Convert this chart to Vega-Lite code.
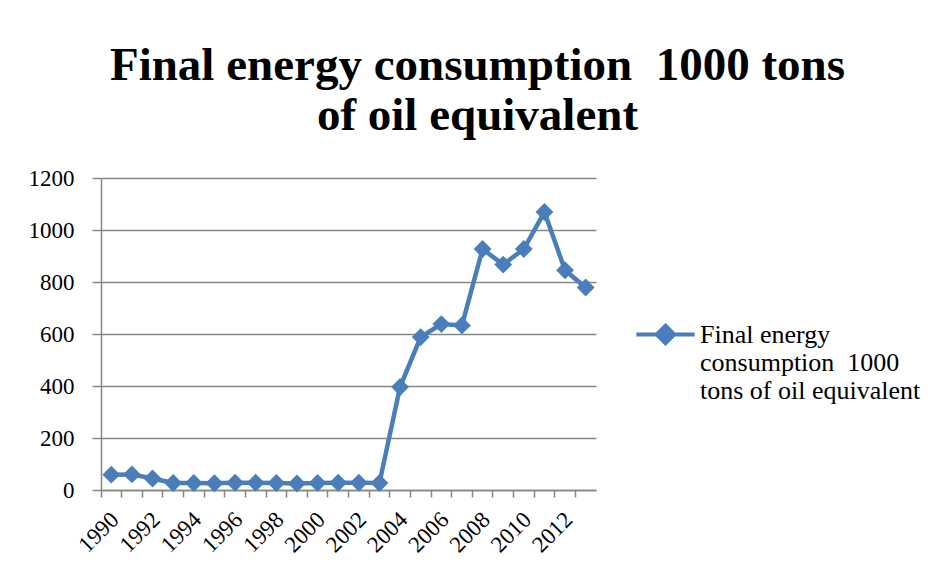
{
  "$schema": "https://vega.github.io/schema/vega-lite/v6.json",
  "width": 495,
  "height": 312,
  "padding": {"left": 28, "top": 42, "right": 10, "bottom": 5},
  "background": "white",
  "title": {
    "text": ["Final energy consumption\u00a0 1000 tons", "of oil equivalent"],
    "font": "Liberation Serif",
    "fontSize": 47,
    "fontWeight": "bold",
    "lineHeight": 50,
    "anchor": "middle",
    "frame": "bounds",
    "offset": 27,
    "dx": 3,
    "color": "black"
  },
  "config": {
    "view": {"stroke": null},
    "axis": {
      "labelFont": "Liberation Serif",
      "labelFontSize": 23,
      "labelColor": "black",
      "domainColor": "#868686",
      "domainWidth": 1.5,
      "tickColor": "#868686",
      "tickWidth": 1.5,
      "gridColor": "#868686",
      "gridWidth": 1.5,
      "gridOpacity": 1
    }
  },
  "data": {
    "values": [
      {"year": 1990, "value": 59, "series": "Final energy consumption  1000 tons of oil equivalent"},
      {"year": 1991, "value": 60, "series": "Final energy consumption  1000 tons of oil equivalent"},
      {"year": 1992, "value": 44, "series": "Final energy consumption  1000 tons of oil equivalent"},
      {"year": 1993, "value": 27, "series": "Final energy consumption  1000 tons of oil equivalent"},
      {"year": 1994, "value": 27, "series": "Final energy consumption  1000 tons of oil equivalent"},
      {"year": 1995, "value": 26, "series": "Final energy consumption  1000 tons of oil equivalent"},
      {"year": 1996, "value": 28, "series": "Final energy consumption  1000 tons of oil equivalent"},
      {"year": 1997, "value": 28, "series": "Final energy consumption  1000 tons of oil equivalent"},
      {"year": 1998, "value": 27, "series": "Final energy consumption  1000 tons of oil equivalent"},
      {"year": 1999, "value": 25, "series": "Final energy consumption  1000 tons of oil equivalent"},
      {"year": 2000, "value": 27, "series": "Final energy consumption  1000 tons of oil equivalent"},
      {"year": 2001, "value": 28, "series": "Final energy consumption  1000 tons of oil equivalent"},
      {"year": 2002, "value": 28, "series": "Final energy consumption  1000 tons of oil equivalent"},
      {"year": 2003, "value": 27, "series": "Final energy consumption  1000 tons of oil equivalent"},
      {"year": 2004, "value": 396, "series": "Final energy consumption  1000 tons of oil equivalent"},
      {"year": 2005, "value": 588, "series": "Final energy consumption  1000 tons of oil equivalent"},
      {"year": 2006, "value": 638, "series": "Final energy consumption  1000 tons of oil equivalent"},
      {"year": 2007, "value": 633, "series": "Final energy consumption  1000 tons of oil equivalent"},
      {"year": 2008, "value": 927, "series": "Final energy consumption  1000 tons of oil equivalent"},
      {"year": 2009, "value": 867, "series": "Final energy consumption  1000 tons of oil equivalent"},
      {"year": 2010, "value": 927, "series": "Final energy consumption  1000 tons of oil equivalent"},
      {"year": 2011, "value": 1069, "series": "Final energy consumption  1000 tons of oil equivalent"},
      {"year": 2012, "value": 845, "series": "Final energy consumption  1000 tons of oil equivalent"},
      {"year": 2013, "value": 779, "series": "Final energy consumption  1000 tons of oil equivalent"}
    ]
  },
  "mark": {
    "type": "line",
    "strokeWidth": 4.5,
    "point": {"shape": "diamond", "size": 320, "filled": true}
  },
  "encoding": {
    "x": {
      "field": "year",
      "type": "ordinal",
      "scale": {"type": "band", "paddingInner": 0, "paddingOuter": 0},
      "axis": {
        "title": null,
        "grid": false,
        "labelAngle": -45,
        "labelAlign": "right",
        "labelBaseline": "top",
        "labelExpr": "datum.value % 2 == 0 ? datum.label : ''",
        "bandPosition": 0,
        "labelOffset": -4,
        "tickSize": 7,
        "labelPadding": 11
      }
    },
    "y": {
      "field": "value",
      "type": "quantitative",
      "scale": {"domain": [0, 1200], "nice": false},
      "axis": {
        "title": null,
        "grid": true,
        "values": [0, 200, 400, 600, 800, 1000, 1200],
        "format": "d",
        "tickSize": 9,
        "labelPadding": 18
      }
    },
    "color": {
      "field": "series",
      "type": "nominal",
      "scale": {"range": ["#4A7EBB"]},
      "legend": {
        "title": null,
        "orient": "none",
        "legendX": 533,
        "legendY": 125,
        "labelFont": "Liberation Serif",
        "labelFontSize": 26,
        "labelColor": "black",
        "labelLimit": 400,
        "labelOffset": 3,
        "labelExpr": "['Final energy', 'consumption\u00a0 1000', 'tons of oil equivalent']",
        "symbolType": "M-1,0H-0.3M0.3,0H1M0,-0.3L0.3,0L0,0.3L-0.3,0Z",
        "symbolSize": 3400,
        "symbolStrokeWidth": 4,
        "symbolFillColor": "#4A7EBB",
        "symbolStrokeColor": "#4A7EBB"
      }
    }
  }
}
